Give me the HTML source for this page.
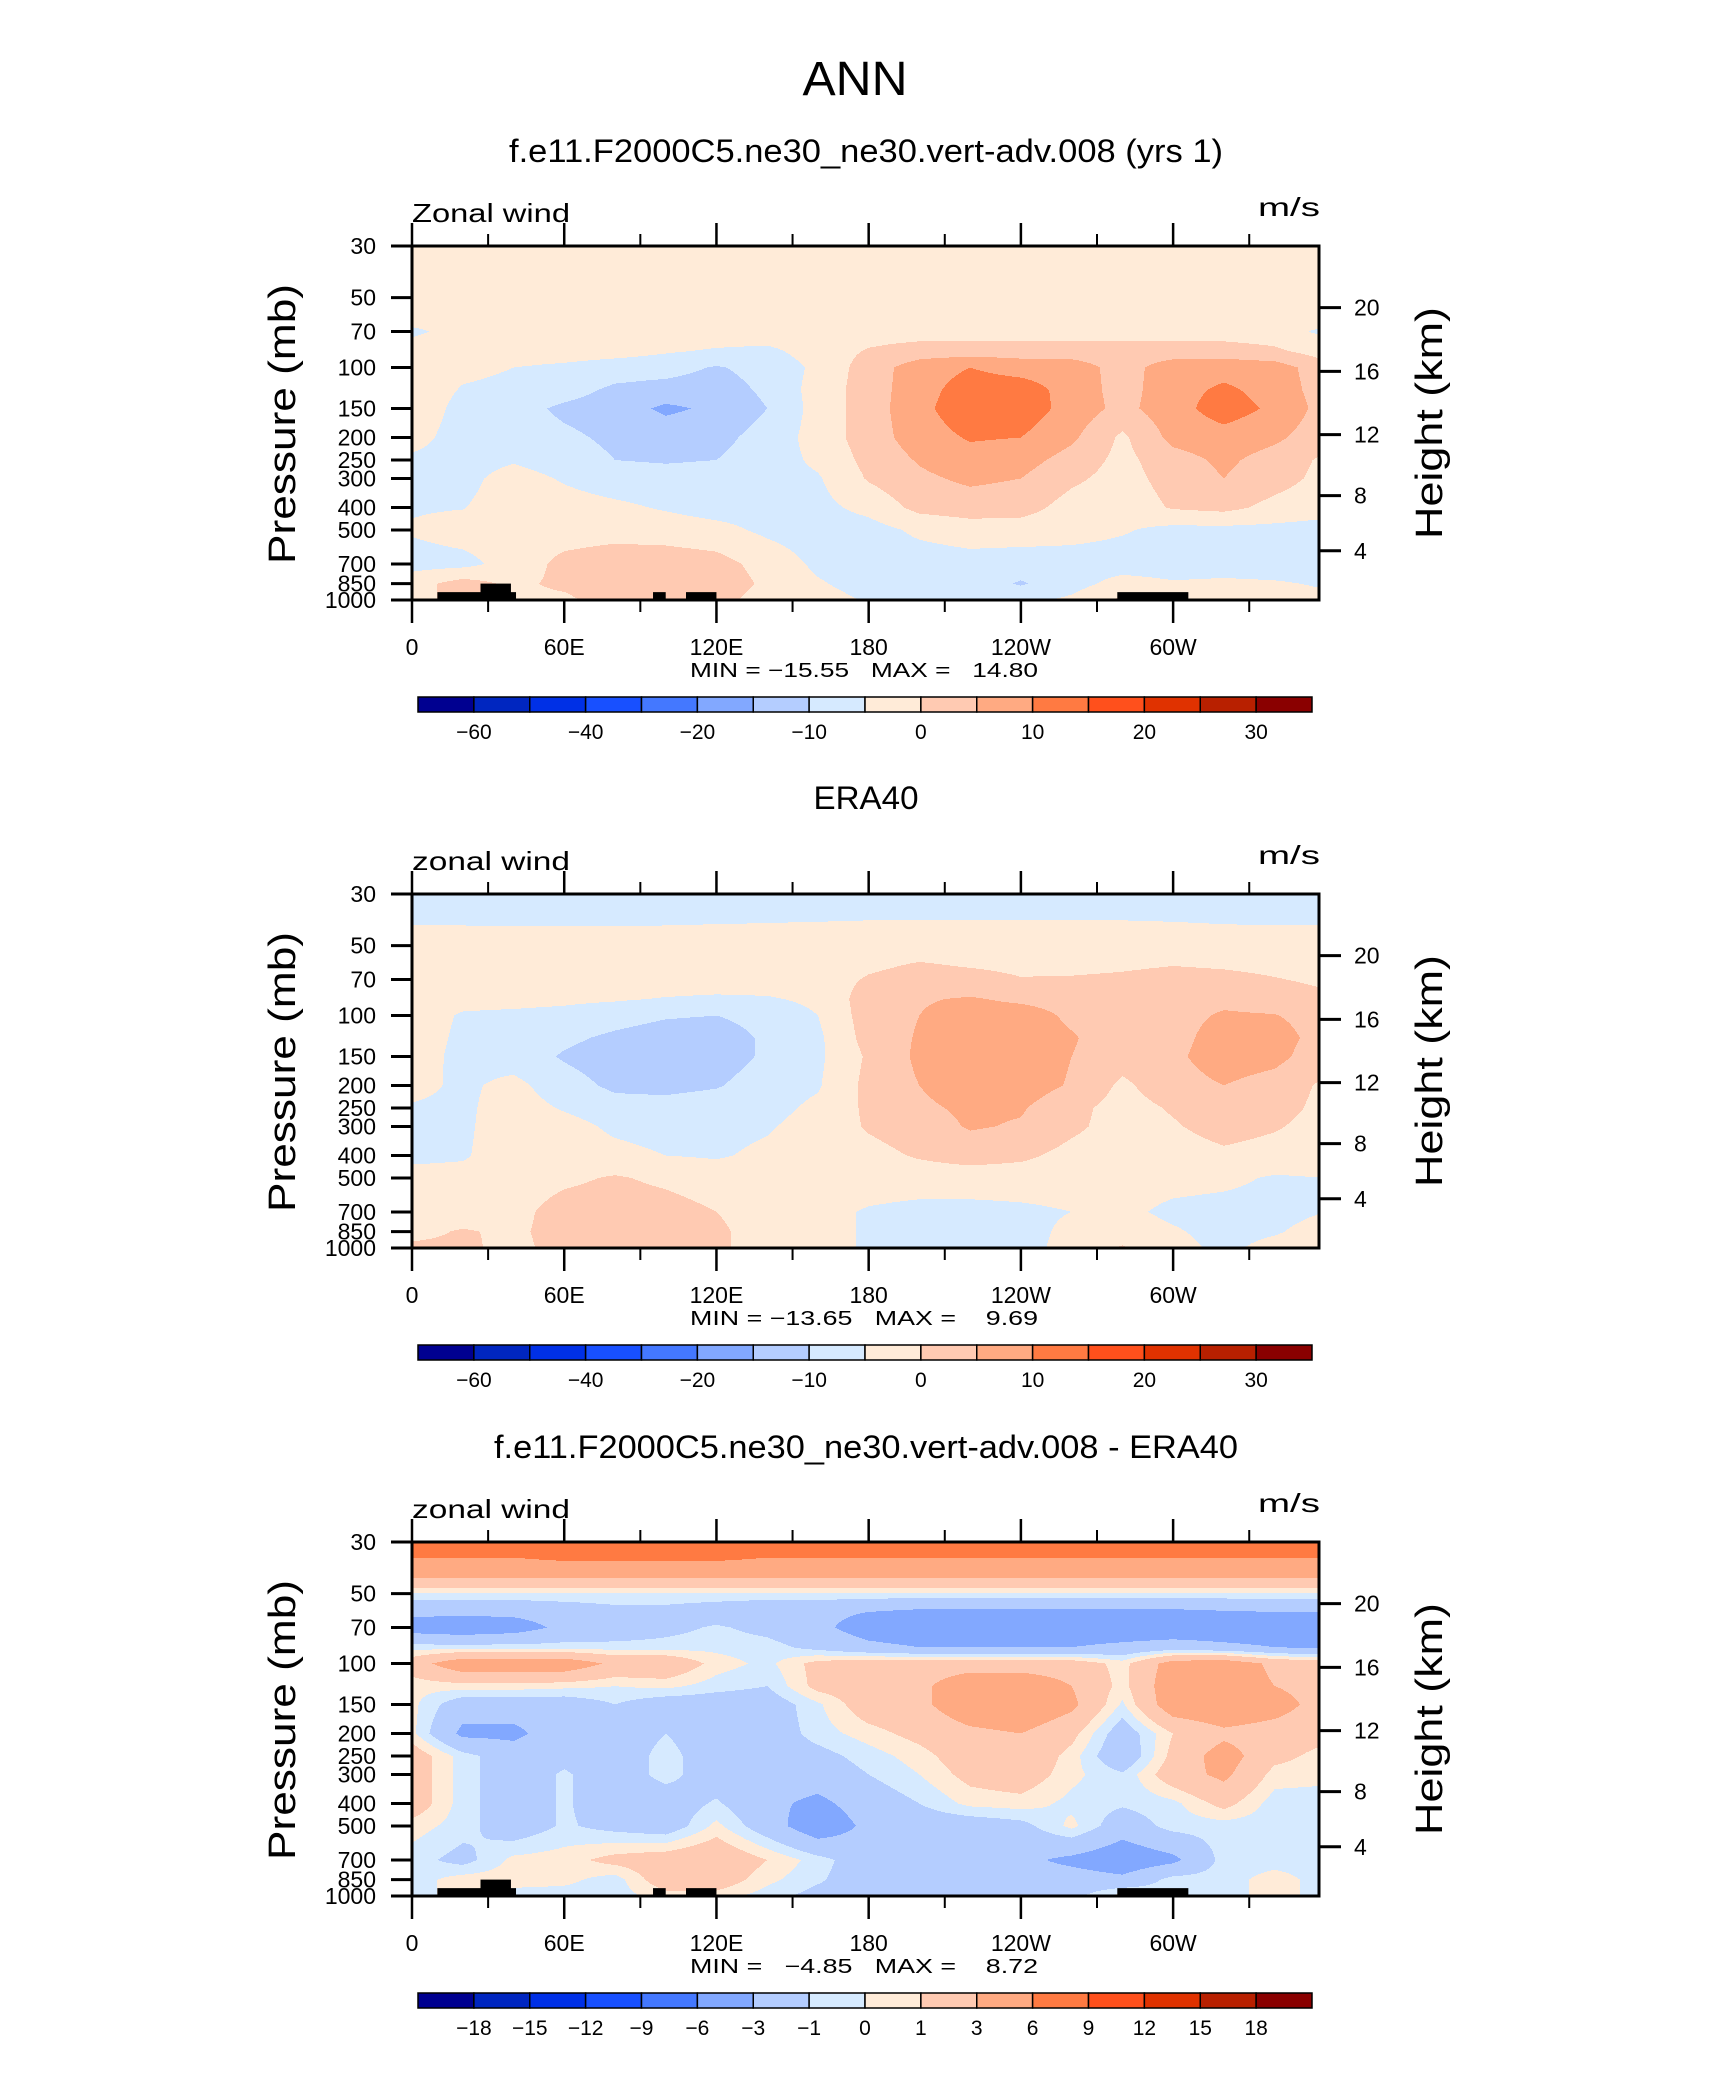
<!DOCTYPE html>
<html><head><meta charset="utf-8">
<style>html,body{margin:0;padding:0;background:#fff}svg{display:block}text{font-family:"Liberation Sans",sans-serif;fill:#000}</style>
</head><body>
<svg id="fig" xmlns="http://www.w3.org/2000/svg" width="1710" height="2074" viewBox="0 0 1710 2074">
<rect x="0" y="0" width="1710" height="2074" fill="#fff"/>
<text x="855" y="95" text-anchor="middle" font-size="48" textLength="105" lengthAdjust="spacingAndGlyphs">ANN</text>
</svg>
<script>
// ---- data ----
const lons = [0,20,40,60,80,100,120,140,160,180,200,220,240,260,280,300,320,340,360];
const levels = [30,35,40,45,50,60,70,85,100,125,150,200,250,300,400,500,700,850,1000];
const modelWind = [
[-2.5,-2.5,-2.5,-2.5,-2.5,-2.5,-2.5,-2.5,-2.5,-2.5,-2.5,-2.5,-2.5,-2.5,-2.5,-2.5,-2.5,-2.5,-2.5],
[-2.5,-2.5,-2.5,-2.5,-2.5,-2.5,-2.5,-2.5,-2.5,-2.5,-2.5,-2.5,-2.5,-2.5,-2.5,-2.5,-2.5,-2.5,-2.5],
[-2.5,-2.5,-2.5,-2.5,-2.5,-2.5,-2.5,-2.5,-2.5,-2.5,-2.5,-2.5,-2.5,-2.5,-2.5,-2.5,-2.5,-2.5,-2.5],
[-2.5,-2.5,-2.5,-2.5,-2.5,-2.5,-2.5,-2.5,-2.5,-2.5,-2.5,-2.5,-2.5,-2.5,-2.5,-2.5,-2.5,-2.5,-2.5],
[-2.5,-2.5,-2.5,-2.5,-2.5,-2.5,-2.5,-2.5,-2.5,-2.5,-2.5,-2.5,-2.5,-2.5,-2.5,-2.5,-2.5,-2.5,-2.5],
[-2.5,-2.5,-2.5,-2.5,-2.5,-2.5,-2.5,-2.5,-2.5,-2.5,-2.5,-2.5,-2.5,-2.5,-2.5,-2.5,-2.5,-2.5,-2.5],
[-6,-3,-2.5,-2.5,-2.5,-2.5,-2.5,-2.5,-2.5,-2.5,-2.5,-2.5,-2.5,-2.5,-2.5,-2.5,-2.5,-3,-6],
[-2.5,-2.5,-2.5,-2.5,-3,-4.5,-5.5,-6,-3,0.5,2.5,2.5,2.5,2.5,2.5,2.5,2.5,1,-2.5],
[-2.5,-3.5,-5,-6,-7.5,-8,-10.5,-8,-4,2.5,7.5,10,8,7.5,3,7.5,8,7.5,2],
[-1,-5.5,-6.5,-8,-11,-12,-12.5,-9,-3,2.5,8,12.5,12.5,8,3,8,11,8,2.5],
[-1,-7,-8,-11,-12.5,-16,-14,-10,-3,2.5,8.5,13.5,13,8,3.5,8,12.5,9,3],
[-3,-7.5,-7.5,-9,-11,-12,-11.5,-8,-3,2.5,7.5,10.5,10,6,-1,6.5,8,6,2],
[-6,-7,-5.5,-7.5,-10,-10.5,-10,-7.5,-4,1.5,5.5,8,7,3,-1.5,3,6,3,-1],
[-6,-6.5,-3,-5.5,-7.5,-8,-7.5,-7,-5.5,0.5,4,6,5,1,-2,2,5,2,-1.5],
[-5.5,-5.2,-2.5,-3,-4,-5.5,-7,-7,-6.5,-3.5,1.5,2.5,2,-2,-3,0.5,1.5,-1.5,-3],
[-4.5,-3,-2.5,-2.5,-2,-2.5,-3.5,-6,-7.5,-7,-4,-2.5,-2.5,-3,-4.5,-6.5,-6.5,-6.5,-7],
[-7,-6.5,-3,1.5,3,3,2,-2,-6,-7.5,-7.5,-7,-7.5,-7.5,-7.5,-7.5,-7.5,-7.5,-7.5],
[-2,2,-1,1,3,3,3,-1,-4.5,-7,-7.5,-7.5,-10.5,-7,-3,-4.5,-4,-4.5,-5.5],
[-2,2,-1,-1,2.5,2,1.5,-2,-3,-5.5,-7,-7,-6.5,-4,1,-2.5,-3.5,-3,-4]];
const obsWind = [
[-7.5,-7.5,-7.5,-7.5,-7.5,-7.5,-7.5,-7.5,-7.5,-7.5,-7.5,-7.5,-7.5,-7.5,-7.5,-7.5,-7.5,-7.5,-7.5],
[-7,-7,-7,-7,-7,-7,-7,-7,-7,-7,-7,-7,-7,-7,-7,-7,-7,-7,-7],
[-5.5,-5.5,-5.8,-5.8,-5.8,-5.5,-5.2,-5,-4.8,-4.5,-4.5,-4.5,-4.5,-4.5,-4.5,-4.8,-5.2,-5.5,-5.5],
[-3,-3,-3,-3,-3,-3,-3,-3,-3,-3,-3,-3,-3,-3,-3,-3,-3,-3,-3],
[-2.5,-2.5,-2.5,-2.5,-2.5,-2.5,-2.5,-2.5,-2.5,-2.5,-2.5,-2.5,-2.5,-2.5,-2.5,-2.5,-2.5,-2.5,-2.5],
[-2.5,-2.5,-2.5,-2.5,-2.5,-2.5,-2.5,-2.5,-2.5,-1,0.3,-0.5,-1,-1.5,-1,-0.3,-0.8,-1.5,-2.5],
[-2.5,-2.5,-2.5,-2.5,-2.5,-2.5,-2.5,-2.5,-2.5,0.5,2,1.5,0.2,0.5,1,2,1.5,0.3,-1],
[-3,-3.5,-3.5,-4,-4.5,-5.3,-5.8,-5.5,-4,2.5,4.5,5.5,4,3,2.5,3.5,4,3,1],
[-2.5,-5.5,-6,-6.5,-8,-9.5,-10,-8,-5,2.5,5,7.5,7.5,4,2.5,3.5,5.5,5.2,3],
[-2.5,-6,-7,-9,-11,-12.5,-13,-9,-6,2,5.5,8,8,5.5,2,3.5,7,7,3],
[-2.5,-6.5,-7.5,-10.5,-12.5,-13,-13,-9,-6,0.8,6,8,8,5,2,4,7.5,6.5,2],
[-3.5,-6,-3.5,-8,-11,-11.5,-10.5,-7,-5.5,1.5,5,8,7.5,4.5,-1,3,5,3,-1],
[-5.5,-6,-2.5,-5.5,-8,-8,-7,-6.5,-4,1,4,6,5.5,1.5,-2,0.5,3,2,-1.5],
[-6,-5.8,-2.5,-3,-6,-7,-6.5,-5.5,-3,0.5,2.5,5.5,4.5,1,-2,-0.5,2,0.5,-2],
[-6,-5.5,-2.5,-2.5,-3.5,-5,-5.5,-4,-2.5,-1.5,0.5,2,1,-1.5,-2.5,-2.5,-1,-2,-2.5],
[-3.5,-3.5,-2.5,-1,0.5,-1,-2.5,-2.5,-2.5,-2.5,-2.5,-2.5,-2.5,-2.5,-3,-3.5,-4,-5.5,-5],
[-2,-3,-1.5,2,2.5,2,0,-2.5,-3.5,-5.5,-6.5,-6.5,-6,-5,-4,-6,-6.5,-6.5,-5],
[-1.5,0.5,-1,2,2.5,2.5,1,-2.5,-3.5,-5.5,-7,-7,-6.5,-4,-2.5,-4.5,-6.5,-5.5,-3],
[1,1,-1.5,2,2.5,2,1,-2.5,-3.5,-5.5,-6.5,-6.5,-6.5,-3.5,0.5,-3.5,-6,-3.5,-2.5]];
const diffWind = [
[7.5,7.5,7.5,7.5,7.5,7.5,7.5,7.5,7.5,7.5,7.5,7.5,7.5,7.5,7.5,7.5,7.5,7.5,7.5],
[6,6,6,6.5,6.5,6.5,6.5,6,6,6,6,6,6,6,6,6,6,6,6],
[4.5,4.5,4.5,4.5,4.5,4.5,4.5,4.5,4.5,4.5,4.5,4.5,4.5,4.5,4.5,4.5,4.5,4.5,4.5],
[2,2,2,2,2,2,2,2,2,2,2,2,2,2,2,2,2,2,2],
[-0.2,-0.2,-0.2,-0.2,-0.2,-0.2,-0.2,-0.2,-0.2,-0.2,-0.2,-0.2,-0.2,-0.2,-0.2,-0.2,-0.2,-0.2,-0.2],
[-2.5,-2.5,-2.5,-2,-1.5,-1.5,-2,-2.5,-2.5,-3,-3.5,-3.5,-3.5,-3.5,-3.5,-3.5,-3.2,-3,-3],
[-4,-4.5,-4,-2.5,-2.2,-1.5,-0.8,-1.5,-2.5,-4,-4.5,-4.5,-4.5,-4.5,-4.5,-4.5,-4.5,-4.5,-4.5],
[-0.5,-0.5,-0.5,-0.5,-0.5,-0.5,-0.3,-0.5,-1.5,-2.5,-3,-3,-3,-3,-2.5,-2,-2.5,-3,-3.5],
[2,4.5,4.5,4.5,2.5,2.5,0.5,-0.3,1.5,2,2,2,2,2,0.5,4,4.5,2.5,2],
[0.3,0.5,0.5,0.3,0,0.3,-0.5,-1,1.5,2,2.5,4.5,4.5,3,0.5,4.5,4.5,3,2],
[0.3,-2,-2,-2,-1,-2,-2,-2,-0.2,2,2.5,4.5,5,3.5,-0.2,4.5,5,4,2],
[0.3,-3.5,-3.5,-1.8,-2,-1,-2,-2,-0.5,0.5,1.5,2.5,3,1.5,-2,1,2.5,2,1.5],
[2,-0.5,-2,-1.5,-2,-0.5,-2,-2,-1.5,-0.5,0.5,2,2.5,0.5,-2.5,1.5,4,1.5,0.5],
[2,-0.5,-2,-0.8,-2,-0.5,-2,-2,-2,-1,0,1.5,2,0.3,-0.8,2,3.5,0.5,0.3],
[2,-0.5,-2,-0.8,-2,-2,-0.8,-2.5,-3.5,-2,-1,0.3,0.5,-0.3,-0.8,-0.3,1.5,-0.5,-0.5],
[0.5,-0.5,-2,-0.8,-1.5,-2,0.3,-2,-4.5,-2.5,-2,-2,-1.5,0.3,-2,-0.5,-0.5,-0.5,-0.5],
[-0.5,-1.5,0.3,0.5,1.5,2,2.5,1,-0.5,-2,-2,-2,-2.5,-3.5,-4.5,-3.5,-0.5,-0.5,-0.5],
[-0.5,0.5,0.5,0.3,-0.5,2,2,0.3,-0.8,-2,-2,-2,-2,-2,-2.5,-0.5,-0.5,0.5,-0.5],
[-0.5,0.5,-0.5,-0.5,-0.5,0.5,0.5,-0.5,-1.5,-2,-2,-2,-2,-1.5,0.5,-0.5,-0.5,0.5,-0.5]];
const windLevels = [-60,-50,-40,-30,-20,-15,-10,-5,0,5,10,15,20,25,30];
const diffLevels = [-18,-15,-12,-9,-6,-3,-1,0,1,3,6,9,12,15,18];
const windLabels = ["−60","","−40","","−20","","−10","","0","","10","","20","","30"];
const diffLabels = ["−18","−15","−12","−9","−6","−3","−1","0","1","3","6","9","12","15","18"];
const fillColors = ["#000090","#0026c0","#0030e6","#1850ff","#4478ff","#82a8ff","#b4cdff","#d6eaff","#ffebd8","#ffcab2","#ffaa82","#ff7a42","#ff501c","#e03200","#b82000","#8a0000"];
const pTicks = [30,50,70,100,150,200,250,300,400,500,700,850,1000];
const lonTicks = [0,60,120,180,240,300];
const lonTickLabels = ["0","60E","120E","180","120W","60W"];
const lonMinorTicks = [30,90,150,210,270,330];
const heightTicks = [4,8,12,16,20];
const heightFrac = [0.861,0.705,0.533,0.354,0.174];
const topoLon0 = [10,27,95,108,278];
const topoLon1 = [41,39,100,120,306];
const topoP = [925,850,925,925,925];
const panelTitles = ["f.e11.F2000C5.ne30_ne30.vert-adv.008 (yrs 1)","ERA40","f.e11.F2000C5.ne30_ne30.vert-adv.008 - ERA40"];
const panelTitleWidth = [714,105,744];
const panelLeftLabels = ["Zonal wind","zonal wind","zonal wind"];
const panelMinMax = ["MIN = −15.55   MAX =   14.80","MIN = −13.65   MAX =    9.69","MIN =   −4.85   MAX =    8.72"];

// ---- layout ----
const NS="http://www.w3.org/2000/svg";
const svg=document.getElementById('fig');
const L=412,R=1319,T0=246,B0=600,LONMAX=357.5;
const CX=866;
const panelDy=[0,648,1296];
function xOf(lon){return L+lon*(R-L)/LONMAX;}
function yOf(p,dy){return T0+dy+(B0-T0)*Math.log(p/30)/Math.log(1000/30);}
function mk(tag,attrs,parent){const e=document.createElementNS(NS,tag);for(const k in attrs)e.setAttribute(k,attrs[k]);(parent||svg).appendChild(e);return e;}
function interp(field,lon,lp){
  let i=0;while(i<lons.length-2&&lon>lons[i+1])i++;
  let j=0;while(j<levels.length-2&&lp>Math.log(levels[j+1]))j++;
  const tx=(lon-lons[i])/(lons[i+1]-lons[i]);
  const ty=(lp-Math.log(levels[j]))/(Math.log(levels[j+1])-Math.log(levels[j]));
  const a=field[j][i],b=field[j][i+1],c=field[j+1][i],d=field[j+1][i+1];
  return (a*(1-tx)+b*tx)*(1-ty)+(c*(1-tx)+d*tx)*ty;
}
function cls(v,bounds){let k=0;for(const b of bounds){if(v>=b)k++;}return k;}

function drawPanel(pi,field,bounds,labels,topo){
  const dy=panelDy[pi];
  const g=mk('g',{});
  
  
  const t=mk('text',{x:CX,y:162+dy+(pi===1?-1:0),'text-anchor':'middle','font-size':32,textLength:panelTitleWidth[pi],lengthAdjust:'spacingAndGlyphs'},g);
  t.textContent=panelTitles[pi];
  
  
  const fl=mk('g',{'shape-rendering':'crispEdges'},g);
  
  
  const W=R-L,H=B0-T0;
  const lnR=Math.log(1000/30);
  for(let y=0;y<H;y++){
    const lp=Math.log(30)+(y+0.5)/H*lnR;
    let start=0,cur=-1;
    for(let x=0;x<=W;x++){
      let c=-2;
      if(x<W){const lon=(x+0.5)/W*LONMAX;c=cls(interp(field,lon,lp),bounds);}
      if(c!==cur){
        if(cur>=0){const r=mk('rect',{x:L+start,y:T0+dy+y,width:x-start,height:1,fill:fillColors[cur]},fl);
          
          }
        start=x;cur=c;
      }
    }
  }
  if(topo){
    for(let k=0;k<topoLon0.length;k++){
      const x0=xOf(topoLon0[k]),x1=xOf(topoLon1[k]),yt=yOf(topoP[k],dy);
      const r=mk('rect',{x:x0,y:yt,width:x1-x0,height:B0+dy-yt,fill:'#000'},g);
      
      
    }
  }
  const fr=mk('rect',{x:L,y:T0+dy,width:R-L,height:B0-T0,fill:'none',stroke:'#000','stroke-width':3},g);
  
  
  pTicks.forEach(p=>{
    const y=yOf(p,dy);
    const l=mk('line',{x1:391,x2:L,y1:y,y2:y,stroke:'#000','stroke-width':3},g);
    
    
    const tx=mk('text',{x:376,y:y+8,'text-anchor':'end','font-size':23},g);
    tx.textContent=p;
    
    
  });
  heightTicks.forEach((h,k)=>{
    const y=T0+dy+heightFrac[k]*(B0-T0);
    const l=mk('line',{x1:R,x2:R+22,y1:y,y2:y,stroke:'#000','stroke-width':3},g);
    
    
    const tx=mk('text',{x:1354,y:y+8,'font-size':23},g);
    tx.textContent=h;
    
    
  });
  lonTicks.forEach((lo,k)=>{
    const x=xOf(lo);
    const a=mk('line',{x1:x,x2:x,y1:B0+dy,y2:B0+dy+23,stroke:'#000','stroke-width':2.5},g);
    
    
    const b=mk('line',{x1:x,x2:x,y1:T0+dy,y2:T0+dy-23,stroke:'#000','stroke-width':2.5},g);
    
    
    const tx=mk('text',{x:x,y:655+dy,'text-anchor':'middle','font-size':23},g);
    tx.textContent=lonTickLabels[k];
    
    
  });
  lonMinorTicks.forEach(lo=>{
    const x=xOf(lo);
    const a=mk('line',{x1:x,x2:x,y1:B0+dy,y2:B0+dy+12,stroke:'#000','stroke-width':2},g);
    
    
    const b=mk('line',{x1:x,x2:x,y1:T0+dy,y2:T0+dy-12,stroke:'#000','stroke-width':2},g);
    
    
  });
  const zl=mk('text',{x:L,y:222+dy,'font-size':26,textLength:158,lengthAdjust:'spacingAndGlyphs'},g);
  zl.textContent=panelLeftLabels[pi];
  
  
  const un=mk('text',{x:1258,y:216+dy,'font-size':26,textLength:62,lengthAdjust:'spacingAndGlyphs'},g);
  un.textContent='m/s';
  
  
  const py=mk('text',{x:0,y:0,'text-anchor':'middle','font-size':38,textLength:280,lengthAdjust:'spacingAndGlyphs',transform:'translate(295,'+(424+dy)+') rotate(-90)'},g);
  py.textContent='Pressure  (mb)';
  
  
  const hy=mk('text',{x:0,y:0,'text-anchor':'middle','font-size':38,textLength:232,lengthAdjust:'spacingAndGlyphs',transform:'translate(1442,'+(423+dy)+') rotate(-90)'},g);
  hy.textContent='Height  (km)';
  
  
  const mm=mk('text',{x:864,y:677+dy,'text-anchor':'middle','font-size':20,textLength:348,lengthAdjust:'spacingAndGlyphs','xml:space':'preserve',style:'white-space:pre'},g);
  mm.textContent=panelMinMax[pi];
  
  
  const cbL=418,cbR=1312,cbT=697+dy,cbH=15,bw=(cbR-cbL)/16;
  for(let k=0;k<16;k++){
    const r=mk('rect',{x:cbL+k*bw,y:cbT,width:bw,height:cbH,fill:fillColors[k],stroke:'#000','stroke-width':1.5},g);
    
    
  }
  labels.forEach((lab,k)=>{
    if(!lab)return;
    const tx=mk('text',{x:cbL+(k+1)*bw,y:cbT+42,'text-anchor':'middle','font-size':21},g);
    tx.textContent=lab;
    
    
  });
}
drawPanel(0,modelWind,windLevels,windLabels,true);
drawPanel(1,obsWind,windLevels,windLabels,false);
drawPanel(2,diffWind,diffLevels,diffLabels,true);
</script>
</body></html>
